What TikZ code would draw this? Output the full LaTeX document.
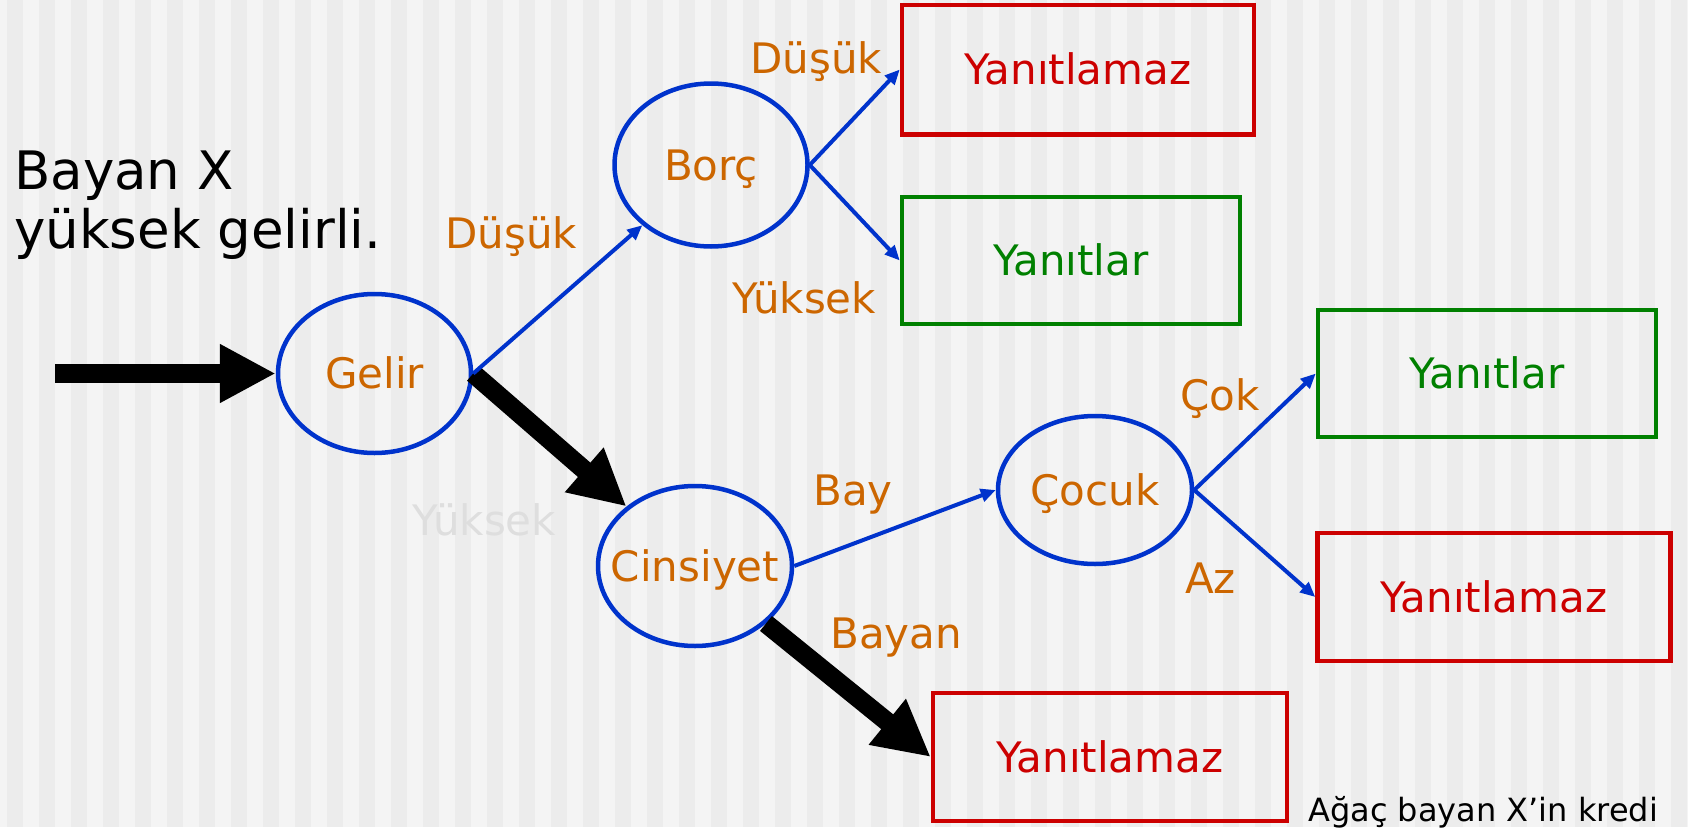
\documentclass[tikz,border=0pt]{standalone}
\usepackage{fontspec}
\setmainfont{DejaVu Sans}
\usetikzlibrary{shapes.geometric,arrows.meta}
\definecolor{bgl}{HTML}{F4F4F4}
\definecolor{bgd}{HTML}{ECECEC}
\definecolor{nblue}{HTML}{0033CC}
\definecolor{norange}{HTML}{CC6600}
\definecolor{nred}{HTML}{CC0000}
\definecolor{ngreen}{HTML}{008000}
\definecolor{faint}{HTML}{DEDEDE}
\begin{document}
\begin{tikzpicture}[x=1pt,y=-1pt,
  fs/.style={font=\fontsize{42}{50}\selectfont},
  decnode/.style={ellipse,draw=nblue,line width=4.5pt,inner sep=0pt,fs,text=norange,text height=30.6pt,text depth=0pt},
  leaf/.style={rectangle,line width=4.5pt,inner sep=0pt,fs,text height=30.6pt,text depth=0pt},
  noleaf/.style={leaf,draw=nred,text=nred},
  yesleaf/.style={leaf,draw=ngreen,text=ngreen},
  lbl/.style={anchor=base west,inner sep=0pt,fs,text=norange},
  bluearrow/.style={draw=nblue,line width=4pt,-{Triangle[length=15pt,width=13pt]}},
  bigarrow/.style={draw=black,line width=19pt,-{Triangle[length=56pt,width=55pt]}}]
% background stripes
\fill[bgl] (0,0) rectangle (1688,827);
\foreach \i in {0,...,52} \fill[bgd] ({7+32*\i},0) rectangle ({23+32*\i},827);
\useasboundingbox (0,0) rectangle (1688,827);

% decision nodes
\node[decnode,minimum width=193pt,minimum height=159pt] (gelir) at (374.5,373.5) {\makebox[0pt]{Gelir}};
\node[decnode,minimum width=193pt,minimum height=163pt] (borc) at (711,165) {\makebox[0pt]{Borç}};
\node[decnode,minimum width=194pt,minimum height=160pt] (cins) at (695,566) {\makebox[0pt]{Cinsiyet}};
\node[decnode,minimum width=194pt,minimum height=148pt] (cocuk) at (1095,490) {\makebox[0pt]{Çocuk}};

% leaves
\node[noleaf,minimum width=352pt,minimum height=129.5pt] (ytz1) at (1078,69.5) {Yanıtlamaz};
\node[yesleaf,minimum width=338pt,minimum height=127pt] (yt1) at (1071,260.5) {Yanıtlar};
\node[yesleaf,minimum width=338pt,minimum height=127pt] (yt2) at (1487,373.5) {Yanıtlar};
\node[noleaf,minimum width=353pt,minimum height=128pt] (ytz2) at (1494,597) {Yanıtlamaz};
\node[noleaf,minimum width=354pt,minimum height=128pt] (ytz3) at (1110,757) {Yanıtlamaz};

% branch labels
\node[lbl] (l1) at (750,73) {Düşük};
\node[lbl] (l2) at (445,248) {Düşük};
\node[lbl] (l3) at (732,313) {Yüksek};
\node[lbl,text=faint] (l4) at (412,535) {Yüksek};
\node[lbl] (l5) at (813,505) {Bay};
\node[lbl] (l6) at (830,648) {Bayan};
\node[lbl] (l7) at (1180,410) {Çok};
\node[lbl] (l8) at (1185,593) {Az};

% texts
\node[anchor=base west,inner sep=0pt,font=\fontsize{53}{59}\selectfont] (intro1) at (14,189) {Bayan X};
\node[anchor=base west,inner sep=0pt,font=\fontsize{53}{59}\selectfont] (intro2) at (14,248) {yüksek gelirli.};
\node[anchor=base west,inner sep=0pt,font=\fontsize{32}{38}\selectfont] (note) at (1308,821) {Ağaç bayan X’in kredi};

% connectors
\coordinate (start) at (55,373.5);
\draw[bigarrow] (start) -- (gelir.west);
\draw[bigarrow] (gelir.east) -- (cins);
\draw[bigarrow] (cins) -- (ytz3.west);
\draw[bluearrow] (gelir.east) -- (borc);
\draw[bluearrow] (borc.east) -- (ytz1.west);
\draw[bluearrow] (borc.east) -- (yt1.west);
\draw[bluearrow] (cins.east) -- (cocuk.west);
\draw[bluearrow] (cocuk.east) -- (yt2.west);
\draw[bluearrow] (cocuk.east) -- (ytz2.west);
\end{tikzpicture}
\end{document}
